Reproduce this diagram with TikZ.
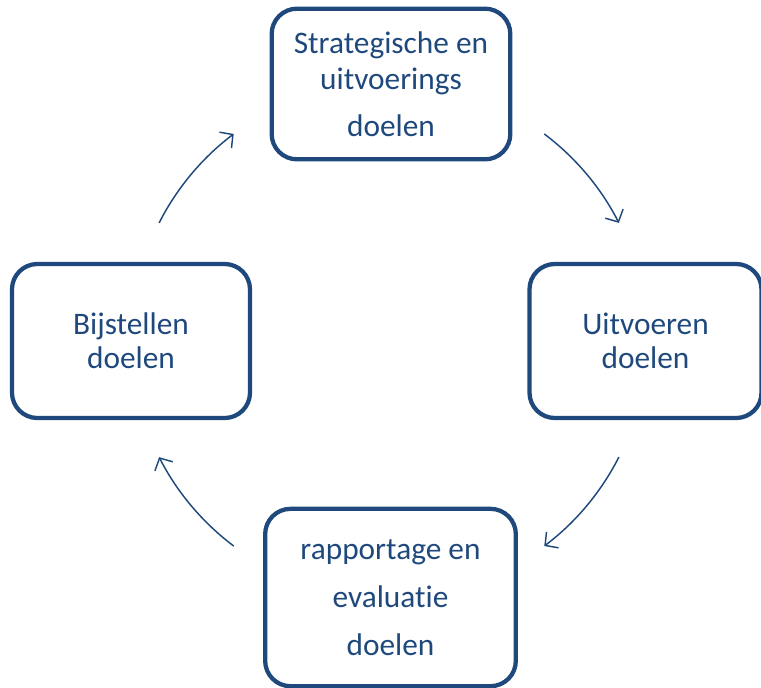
\documentclass[tikz,border=0pt]{standalone}
\usepackage{fontspec}
\setmainfont{Carlito}[Ligatures=NoCommon]
\usetikzlibrary{arrows.meta}
\definecolor{doelblauw}{HTML}{1F497D}
\begin{document}
\begin{tikzpicture}[x=0.75pt,y=0.75pt,
    doel/.style={draw=doelblauw,line width=3.2pt,rounded corners=19pt,
      text=doelblauw,align=center,inner sep=0pt,
      font=\fontsize{23.5}{25.5}\selectfont},
    pijl/.style={doelblauw,line width=1.1pt,
      -{Straight Barb[length=7pt,width=15pt]}}]
  \useasboundingbox (-389,340) rectangle (372,-347);
  \draw
    (2,256) node[doel,minimum width=179pt,minimum height=113pt] (strat)
      {Strategische en\\[1.5pt]uitvoerings\\[9.5pt]doelen}
    (256.5,-1) node[doel,minimum width=174pt,minimum height=115.5pt] (uitv)
      {Uitvoeren\\doelen}
    (1.5,-257.5) node[doel,minimum width=188pt,minimum height=133pt] (rapp)
      {rapportage en\\[10.5pt]evaluatie\\[10.5pt]doelen}
    (-258,-1) node[doel,minimum width=178.5pt,minimum height=115.5pt] (bijst)
      {Bijstellen\\doelen};
  \path
    (53:258) coordinate (p1)
    (-27:258) coordinate (p2)
    (233:258) coordinate (p3)
    (153:258) coordinate (p4);
  \begin{scope}[pijl]
    \draw (p1) arc[start angle=53,end angle=27,radius=258];
    \draw (p2) arc[start angle=-27,end angle=-53,radius=258];
    \draw (p3) arc[start angle=233,end angle=207,radius=258];
    \draw (p4) arc[start angle=153,end angle=127,radius=258];
  \end{scope}
\end{tikzpicture}
\end{document}
